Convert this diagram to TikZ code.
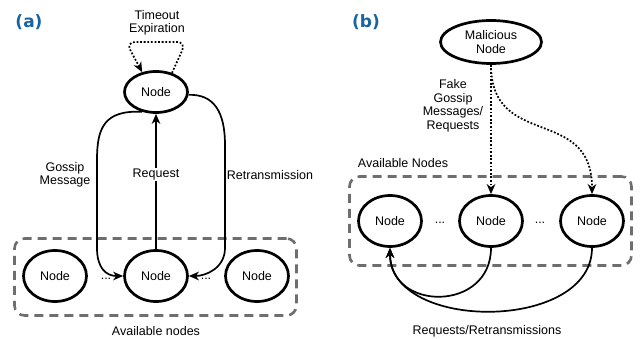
\documentclass[tikz,border=0pt]{standalone}
\usepackage{fontspec}
\setmainfont{Liberation Sans}
\newfontfamily\lblfont{DejaVu Sans}
\usetikzlibrary{shapes.geometric,arrows.meta}
\definecolor{lblblue}{RGB}{24,100,163}
\definecolor{boxgray}{RGB}{110,110,110}
\tikzset{
    EL1/.style ={ellipse,minimum width=63pt,minimum height=41pt,inner sep=0pt,draw,line width=2.7pt},
    EL2/.style ={ellipse,minimum width=63pt,minimum height=51pt,inner sep=0pt,draw,line width=2.7pt},
    EL3/.style ={ellipse,minimum width=101pt,minimum height=43pt,inner sep=0pt,draw,line width=2.7pt},
    BX/.style ={rectangle,rounded corners=10pt,draw=boxgray,line width=2.6pt,dash pattern=on 9pt off 6pt},
    AR/.style ={line width=1.7pt,-{Stealth[length=10pt,width=8.5pt,inset=3pt]}},
    DT/.style ={AR,dash pattern=on 1.8pt off 1.8pt},
    TX/.style ={align=center,font=\fontsize{12.5}{13.5}\selectfont},
    PL/.style ={font=\lblfont\bfseries\fontsize{17}{20}\selectfont,text=lblblue},
    LB/.style ={pos=0.55,fill=white,inner sep=1pt}}

\begin{document}
\begin{tikzpicture}[x=1pt,y=-1pt,every node/.append style={TX}]
    \useasboundingbox (0,0) rectangle (642,339);
    % (a)
    \node[PL] (pa) at (29,22) {(a)};
    \node[BX,minimum width=282pt,minimum height=77pt] (bxa) at (155.5,277) {};
    \node[EL1] (1) at (156,92) {Node};
    \node[EL2] (2) at (55,276) {Node};
    \node[EL2] (3) at (156,276) {Node};
    \node[EL2] (4) at (257,276) {Node};
    \node (d1) at (106,279) {...};
    \node (d2) at (206,279) {...};
    \node (t1) at (157,23) {Timeout\\Expiration};
    \node (t2) at (65,175) {Gossip\\Message};
    \node (t3) at (270,175) {Retransmission};
    \node (t4) at (156,331) {Available nodes};
    \draw[DT,rounded corners=9pt] (1.50) -- (186,42) -- (126,42) -- (1.125);
    \draw[AR] (1.-125) .. controls (104,110) and (97,128) .. (97,160) -- (97,248)
        .. controls (97,268) and (106,276) .. (3.west);
    \draw[AR] (1.-5) .. controls (214,94) and (225,112) .. (225,145) -- (225,248)
        .. controls (225,268) and (206,276) .. (3.east);
    \draw[AR] (3) -- (1) node[LB]{Request};
    % (b)
    \node[PL] (pb) at (366,22) {(b)};
    \node[BX,minimum width=282pt,minimum height=89pt] (bxb) at (490.5,221) {};
    \node[EL3] (5) at (491,42) {Malicious\\Node};
    \node[EL2] (6) at (390,221) {Node};
    \node[EL2] (7) at (491,221) {Node};
    \node[EL2] (8) at (592,221) {Node};
    \node (d3) at (440,223) {...};
    \node (d4) at (540,223) {...};
    \node (t5) at (453,106) {Fake\\Gossip\\Messages/\\Requests};
    \node (t6) at (403,163) {Available Nodes};
    \node (t7) at (487,331) {Requests/Retransmissions};
    \draw[DT] (5) -- (7);
    \draw[DT] (5.south) .. controls (491,150) and (592,105) .. (8.north);
    \draw[AR] (7.south) .. controls (491,312) and (390,312) .. (6.south);
    \draw[AR] (8.south) .. controls (592,332) and (390,332) .. (6.south);
\end{tikzpicture}
\end{document}
